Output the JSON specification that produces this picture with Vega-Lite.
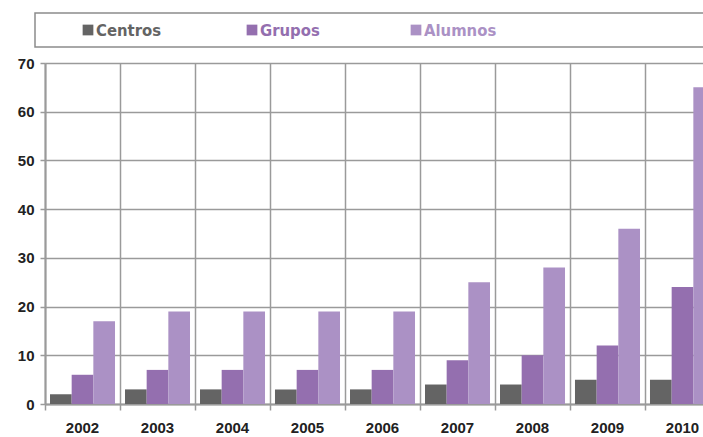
{
  "$schema": "https://vega.github.io/schema/vega-lite/v6.json",
  "background": "white",
  "padding": {"left": 17, "top": 12, "right": 0, "bottom": 0},
  "bounds": "flush",
  "spacing": 16,
  "config": {"view": {"stroke": null}, "font": "Liberation Sans"},
  "vconcat": [
    {
      "width": 685,
      "height": 34,
      "view": {"stroke": "#8c8c8c", "strokeWidth": 1.5, "fill": "white"},
      "data": {"values": [{"series": "Centros"}, {"series": "Grupos"}, {"series": "Alumnos"}]},
      "encoding": {
        "x": {"field": "series", "type": "nominal", "sort": ["Centros", "Grupos", "Alumnos"], "scale": {"type": "point", "range": [53, 381], "padding": 0}, "axis": null},
        "color": {"field": "series", "type": "nominal", "scale": {"domain": ["Centros", "Grupos", "Alumnos"], "range": ["#646464", "#946faf", "#ab91c5"]}, "legend": null}
      },
      "layer": [
        {"mark": {"type": "square", "size": 115, "opacity": 1, "filled": true, "dy": -1}},
        {"mark": {"type": "text", "align": "left", "dx": 8, "dy": 1, "baseline": "middle", "font": "DejaVu Sans Condensed, Liberation Sans", "fontSize": 16.5, "fontWeight": "bold"}, "encoding": {"text": {"field": "series"}}}
      ]
    },
    {
      "width": 685,
      "height": 341,
      "data": {"values": [
        {"year": "2002", "series": "Centros", "value": 2}, {"year": "2002", "series": "Grupos", "value": 6}, {"year": "2002", "series": "Alumnos", "value": 17},
        {"year": "2003", "series": "Centros", "value": 3}, {"year": "2003", "series": "Grupos", "value": 7}, {"year": "2003", "series": "Alumnos", "value": 19},
        {"year": "2004", "series": "Centros", "value": 3}, {"year": "2004", "series": "Grupos", "value": 7}, {"year": "2004", "series": "Alumnos", "value": 19},
        {"year": "2005", "series": "Centros", "value": 3}, {"year": "2005", "series": "Grupos", "value": 7}, {"year": "2005", "series": "Alumnos", "value": 19},
        {"year": "2006", "series": "Centros", "value": 3}, {"year": "2006", "series": "Grupos", "value": 7}, {"year": "2006", "series": "Alumnos", "value": 19},
        {"year": "2007", "series": "Centros", "value": 4}, {"year": "2007", "series": "Grupos", "value": 9}, {"year": "2007", "series": "Alumnos", "value": 25},
        {"year": "2008", "series": "Centros", "value": 4}, {"year": "2008", "series": "Grupos", "value": 10}, {"year": "2008", "series": "Alumnos", "value": 28},
        {"year": "2009", "series": "Centros", "value": 5}, {"year": "2009", "series": "Grupos", "value": 12}, {"year": "2009", "series": "Alumnos", "value": 36},
        {"year": "2010", "series": "Centros", "value": 5}, {"year": "2010", "series": "Grupos", "value": 24}, {"year": "2010", "series": "Alumnos", "value": 65}
      ]},
      "mark": {"type": "bar"},
      "encoding": {
        "x": {"field": "year", "type": "nominal", "scale": {"paddingInner": 0, "paddingOuter": 0, "range": [10, 685]},
          "axis": {"title": null, "labelAngle": 0, "grid": true, "bandPosition": 0, "gridColor": "#9a9a9a", "gridWidth": 1.5, "gridOpacity": 1,
            "tickColor": "#9a9a9a", "tickSize": 6, "tickWidth": 1.5, "domainColor": "#9a9a9a", "domainWidth": 2,
            "labelFont": "Liberation Sans", "labelFontSize": 15, "labelFontWeight": "bold", "labelColor": "#222222", "labelPadding": 10}},
        "xOffset": {"field": "series", "type": "nominal", "sort": ["Centros", "Grupos", "Alumnos"], "scale": {"paddingInner": 0, "paddingOuter": 0.23}},
        "y": {"field": "value", "type": "quantitative", "scale": {"domain": [0, 70], "nice": false},
          "axis": {"title": null, "offset": -10, "values": [0, 10, 20, 30, 40, 50, 60, 70], "grid": true, "gridColor": "#9a9a9a", "gridWidth": 1.5, "gridOpacity": 1,
            "tickColor": "#9a9a9a", "tickSize": 5, "tickWidth": 1.5, "domainColor": "#9a9a9a", "domainWidth": 2,
            "labelFont": "Liberation Sans", "labelFontSize": 15, "labelFontWeight": "bold", "labelColor": "#222222", "labelPadding": 6}},
        "color": {"field": "series", "type": "nominal", "scale": {"domain": ["Centros", "Grupos", "Alumnos"], "range": ["#646464", "#946faf", "#ab91c5"]}, "legend": null}
      }
    }
  ]
}
